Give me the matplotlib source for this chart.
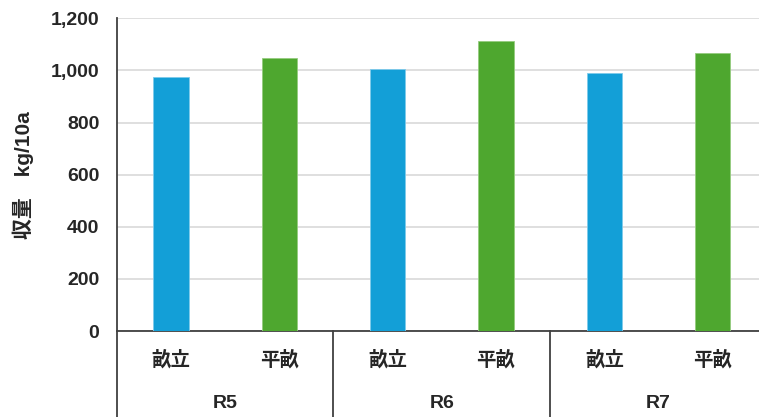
import matplotlib
matplotlib.use("Agg")
import matplotlib.pyplot as plt
import matplotlib.transforms as mtransforms

plt.rcParams['font.family'] = ['Liberation Sans', 'Noto Sans CJK JP', 'DejaVu Sans']
plt.rcParams['font.weight'] = 'bold'

# data
years = ["R5", "R6", "R7"]
methods = ["畝立", "平畝"]
values = [973, 1048, 1005, 1113, 992, 1068]
colors_by_method = ["#139FD7", "#4EA72F"]
y_ticks = [0, 200, 400, 600, 800, 1000, 1200]
y_label = "収量　kg/10a"

W, H = 759, 417
fig = plt.figure(figsize=(W / 100, H / 100), dpi=100)
left = 116.7 / W
right = 767.0 / W
bottom = (H - 331.0) / H
top = (H - 18.3) / H
ax = fig.add_axes([left, bottom, right - left, top - bottom])

n_m = len(methods)
xs = list(range(len(values)))
cols = [colors_by_method[i % n_m] for i in xs]
edge = ["#7FCBEB", "#95CC7F"]
ecols = [edge[i % n_m] for i in xs]
ax.bar(xs, values, width=0.325, color=cols, edgecolor=ecols, linewidth=0.6, zorder=3)

ax.set_xlim(-0.5, len(values) - 0.5)
ax.set_ylim(0, 1200)
ax.set_yticks(y_ticks)
ax.set_yticklabels([f"{v:,}" for v in y_ticks])
ax.tick_params(axis='y', length=0, pad=12.5, labelsize=14, labelcolor='#262626')
ax.yaxis.grid(True, color='#D9D9D9', linewidth=1.2, zorder=0)
ax.set_axisbelow(True)

ax.set_xticks(xs)
ax.set_xticklabels([methods[i % n_m] for i in xs])
ax.tick_params(axis='x', length=0, pad=14, labelsize=14, labelcolor='#262626')

for s in ['top', 'right']:
    ax.spines[s].set_visible(False)
ax.spines['left'].set_color('#404040')
ax.spines['left'].set_linewidth(1.3)
ax.spines['bottom'].set_color('#404040')
ax.spines['bottom'].set_linewidth(1.3)

# group table lines and labels
trans = mtransforms.blended_transform_factory(ax.transData, ax.transAxes)
for g in range(len(years) + 1):
    xb = g * n_m - 0.5
    ax.plot([xb, xb], [0, -0.3], transform=trans, color='#404040',
            linewidth=1.3, clip_on=False)
axis_h = 331.0 - 18.3
for g, yr in enumerate(years):
    xc = g * n_m + (n_m - 1) / 2
    ax.text(xc, -(403 - 331) / axis_h, yr, transform=trans, ha='center',
            va='center', fontsize=14, color='#262626')

fig.text(23 / W, (H - 175) / H, y_label, rotation=90, ha='center', va='center',
         fontsize=15, color='#262626')

fig.savefig("out.png", dpi=100)
